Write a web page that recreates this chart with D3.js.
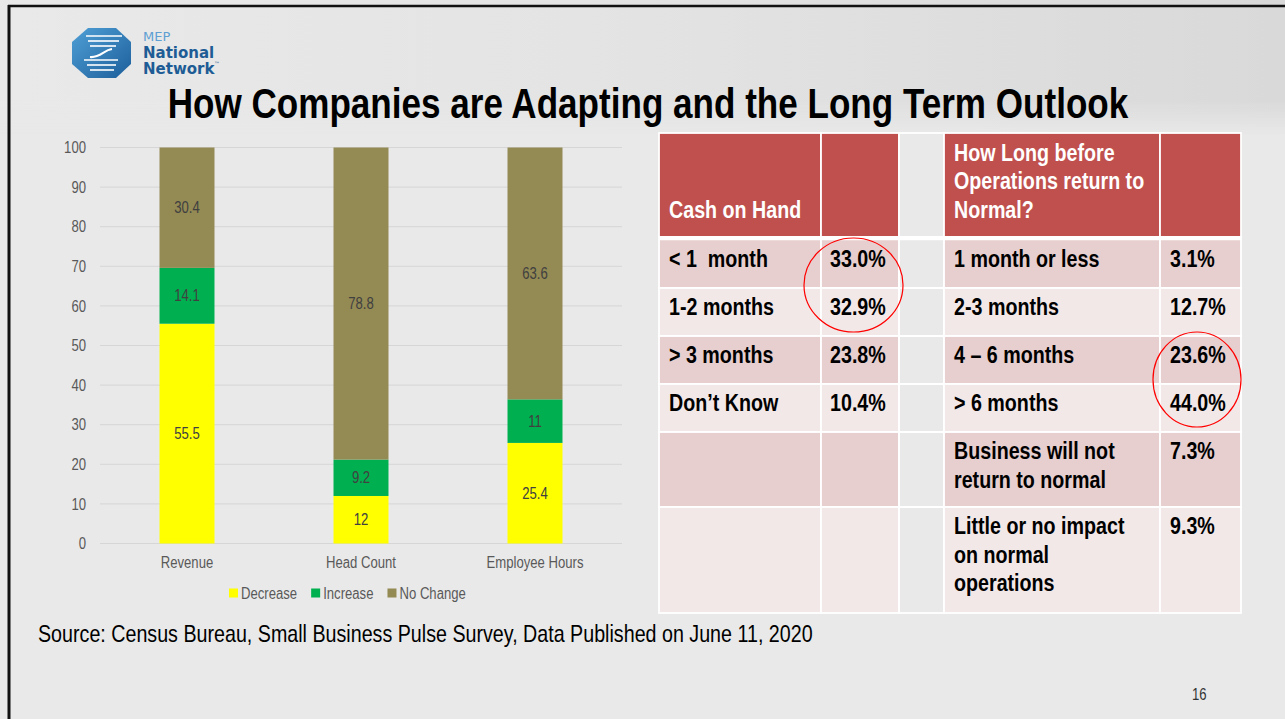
<!DOCTYPE html>
<html>
<head>
<meta charset="utf-8">
<title>How Companies are Adapting and the Long Term Outlook</title>
<script src="https://d3js.org/d3.v7.min.js"></script>
<style>
  body { margin:0; padding:0; background:#e9e9e9; }
  svg text { font-family:"Liberation Sans",Arial,sans-serif; }
</style>
</head>
<body>
<svg id="slide" width="1285" height="719"></svg>
<script>
// ---- chart data ----
const categories = ["Revenue", "Head Count", "Employee Hours"];
const seriesNames = ["Decrease", "Increase", "No Change"];
const decrease = [55.5, 12, 25.4];
const increase = [14.1, 9.2, 11];
const noChange = [30.4, 78.8, 63.6];
const yTicks = [0, 10, 20, 30, 40, 50, 60, 70, 80, 90, 100];
const seriesColors = ["#ffff00", "#00b050", "#948a54"];

// ---- table data ----
const cashHeader = "Cash on Hand";
const cashLabels = ["< 1  month", "1-2 months", "> 3 months", "Don\u2019t Know"];
const cashValues = ["33.0%", "32.9%", "23.8%", "10.4%"];
const normalHeader = ["How Long before", "Operations return to", "Normal?"];
const normalLabels = [["1 month or less"], ["2-3 months"], ["4 \u2013 6 months"], ["> 6 months"],
  ["Business will not", "return to normal"], ["Little or no impact", "on normal", "operations"]];
const normalValues = ["3.1%", "12.7%", "23.6%", "44.0%", "7.3%", "9.3%"];

const svg = d3.select("#slide");
const defs = svg.append("defs");

// no narrow font installed -> squeeze Liberation Sans horizontally (arial narrow look)
function condense(sel, k) {
  k = k || 0.82;
  sel.each(function () {
    let t = d3.select(this);
    let tx = +t.attr("x") || 0, ty = +t.attr("y") || 0;
    t.attr("x", 0).attr("y", 0).attr("transform", `translate(${tx},${ty}) scale(${k},1)`);
  });
  return sel;
}

// background: soft gradient band at the top
let bgGrad = defs.append("linearGradient").attr("id", "bgg").attr("x1", 0).attr("y1", 0).attr("x2", 1).attr("y2", 0);
bgGrad.append("stop").attr("offset", 0).attr("stop-color", "#e9e9e9");
bgGrad.append("stop").attr("offset", 0.45).attr("stop-color", "#e4e4e4");
bgGrad.append("stop").attr("offset", 1).attr("stop-color", "#d9d9d9");
let fade = defs.append("linearGradient").attr("id", "fade").attr("x1", 0).attr("y1", 0).attr("x2", 0).attr("y2", 1);
fade.append("stop").attr("offset", 0.75).attr("stop-color", "#fff").attr("stop-opacity", 1);
fade.append("stop").attr("offset", 1).attr("stop-color", "#fff").attr("stop-opacity", 0);
defs.append("mask").attr("id", "fadeMask").append("rect").attr("width", 1285).attr("height", 135).attr("fill", "url(#fade)");

svg.append("rect").attr("width", 1285).attr("height", 719).attr("fill", "#e9e9e9");
svg.append("rect").attr("width", 1285).attr("height", 135).attr("fill", "url(#bgg)").attr("mask", "url(#fadeMask)");

// slide frame (top + left)
svg.append("line").attr("x1", 8).attr("x2", 1285).attr("y1", 6).attr("y2", 6)
  .attr("stroke", "#111").attr("stroke-width", 2.5);
svg.append("line").attr("x1", 9).attr("x2", 9).attr("y1", 5).attr("y2", 719)
  .attr("stroke", "#111").attr("stroke-width", 3);

// ---- logo ----
let logo = svg.append("g");
let grad = defs.append("linearGradient").attr("id", "lg")
  .attr("x1", 0).attr("y1", 0).attr("x2", 1).attr("y2", 1);
grad.append("stop").attr("offset", 0).attr("stop-color", "#4f9fd6");
grad.append("stop").attr("offset", 1).attr("stop-color", "#1d5f9b");
logo.append("path")
  .attr("d", "M88,28 L116,28 L131,42 L131,64 L116,78 L88,78 L72,64 L72,42 Z")
  .attr("fill", "url(#lg)");
[36, 41, 46].forEach((y, i) => {
  logo.append("line").attr("x1", 86 + i * 2).attr("x2", 122 - i * 3).attr("y1", y).attr("y2", y)
    .attr("stroke", "#fff").attr("stroke-width", 1.6);
});
[60, 65, 70].forEach((y, i) => {
  logo.append("line").attr("x1", 84 + i * 3).attr("x2", 118 - i * 2).attr("y1", y).attr("y2", y)
    .attr("stroke", "#fff").attr("stroke-width", 1.6);
});
logo.append("path").attr("d", "M90,57 C100,58 104,50 112,49")
  .attr("fill", "none").attr("stroke", "#fff").attr("stroke-width", 2.2);
logo.append("text").attr("x", 143).attr("y", 41).text("MEP")
  .style("font-family", "DejaVu Sans").style("font-size", "13px").attr("fill", "#5d9fd3");
logo.append("text").attr("x", 143).attr("y", 58).text("National")
  .style("font-family", "DejaVu Sans").style("font-size", "15px").style("font-weight", "bold").attr("fill", "#1e5c95");
logo.append("text").attr("x", 143).attr("y", 74).text("Network")
  .style("font-family", "DejaVu Sans").style("font-size", "15px").style("font-weight", "bold").attr("fill", "#1e5c95");
logo.append("text").attr("x", 214).attr("y", 66).text("\u2122")
  .style("font-family", "DejaVu Sans").style("font-size", "6px").attr("fill", "#1e5c95");

// ---- title ----
condense(svg.append("text").attr("x", 648).attr("y", 118).attr("text-anchor", "middle")
  .style("font-size", "42px").style("font-weight", "bold").attr("fill", "#000")
  .text("How Companies are Adapting and the Long Term Outlook"), 0.835);

// ---- stacked bar chart ----
let x = d3.scaleBand().domain(categories).range([100, 622]).paddingInner(0.684).paddingOuter(0.342);
let y = d3.scaleLinear().domain([0, 100]).range([543.5, 147.5]);

let rows = categories.map((c, i) => ({ cat: c, "Decrease": decrease[i], "Increase": increase[i], "No Change": noChange[i] }));
let stacked = d3.stack().keys(seriesNames)(rows);

let chart = svg.append("g");
chart.selectAll("line.grid").data(yTicks).enter().append("line")
  .attr("x1", 100).attr("x2", 622)
  .attr("y1", d => y(d)).attr("y2", d => y(d))
  .attr("stroke", "#d6d6d6").attr("stroke-width", 1);

condense(chart.selectAll("text.ytick").data(yTicks).enter().append("text")
  .attr("x", 86).attr("y", d => y(d)).attr("dy", "0.35em").attr("text-anchor", "end")
  .style("font-size", "16px").attr("fill", "#595959").text(d => d));

let layers = chart.selectAll("g.layer").data(stacked).enter().append("g")
  .attr("fill", (d, i) => seriesColors[i]);
layers.selectAll("rect").data(d => d).enter().append("rect")
  .attr("x", d => x(d.data.cat)).attr("width", x.bandwidth())
  .attr("y", d => y(d[1])).attr("height", d => y(d[0]) - y(d[1]));
condense(layers.selectAll("text").data(d => d).enter().append("text")
  .attr("x", d => x(d.data.cat) + x.bandwidth() / 2)
  .attr("y", d => y((d[0] + d[1]) / 2)).attr("dy", "0.35em")
  .attr("text-anchor", "middle").style("font-size", "16px").attr("fill", "#404040")
  .text(d => +(d[1] - d[0]).toFixed(1)));

condense(chart.selectAll("text.cat").data(categories).enter().append("text")
  .attr("x", d => x(d) + x.bandwidth() / 2).attr("y", 568).attr("text-anchor", "middle")
  .style("font-size", "16px").attr("fill", "#595959").text(d => d));

// legend
let lx = 229;
seriesNames.forEach((name, i) => {
  chart.append("rect").attr("x", lx).attr("y", 588.5).attr("width", 9).attr("height", 9).attr("fill", seriesColors[i]);
  let t = chart.append("text").attr("x", lx + 12).attr("y", 598.5)
    .style("font-size", "16px").attr("fill", "#595959").text(name);
  let w = t.node().getComputedTextLength() * 0.82;
  condense(t);
  lx += 12 + w + 14;
});

// ---- table ----
const colX = [659, 821, 899, 944, 1160, 1241];
const rowY = [133, 237, 288, 336, 384, 432, 507, 613];
const headFill = "#c0504d", oddFill = "#e7cfcf", evenFill = "#f3e8e8";
let table = svg.append("g");

for (let r = 0; r < rowY.length - 1; r++) {
  for (let c = 0; c < colX.length - 1; c++) {
    let fill = c === 2 ? "none" : (r === 0 ? headFill : (r % 2 === 1 ? oddFill : evenFill));
    table.append("rect")
      .attr("x", colX[c]).attr("y", rowY[r])
      .attr("width", colX[c + 1] - colX[c]).attr("height", rowY[r + 1] - rowY[r])
      .attr("fill", fill).attr("stroke", "#fff").attr("stroke-width", 1.8);
  }
}
// thicker line under header
table.append("line").attr("x1", colX[0]).attr("x2", colX[5]).attr("y1", 238.5).attr("y2", 238.5)
  .attr("stroke", "#fff").attr("stroke-width", 3.5);

function cellText(xp, yp, txt, color) {
  let t = table.append("text").attr("x", xp).attr("y", yp).attr("fill", color)
    .style("font-size", "24px").style("font-weight", "bold").style("white-space", "pre").text(txt);
  return condense(t);
}
cellText(669, 218, cashHeader, "#fff");
normalHeader.forEach((line, i) => cellText(954, 161 + i * 28.3, line, "#fff"));

cashLabels.forEach((lab, i) => {
  let top = rowY[i + 1] + (i === 0 ? 3 : 0);
  cellText(669, top + 27, lab, "#000");
  cellText(830, top + 27, cashValues[i], "#000");
});
normalLabels.forEach((lines, i) => {
  let top = rowY[i + 1] + (i === 0 ? 3 : 0);
  lines.forEach((line, j) => cellText(954, top + 27 + j * 28.5, line, "#000"));
  cellText(1170, top + 27, normalValues[i], "#000");
});

// red highlight circles
table.append("ellipse").attr("cx", 853.5).attr("cy", 285).attr("rx", 49.5).attr("ry", 47)
  .attr("fill", "none").attr("stroke", "#ff0000").attr("stroke-width", 1.2);
table.append("ellipse").attr("cx", 1197).attr("cy", 379.5).attr("rx", 44).attr("ry", 47.5)
  .attr("fill", "none").attr("stroke", "#ff0000").attr("stroke-width", 1.2);

// ---- footer ----
condense(svg.append("text").attr("x", 38).attr("y", 642).style("font-size", "24px").attr("fill", "#000")
  .text("Source: Census Bureau, Small Business Pulse Survey, Data Published on June 11, 2020"));
condense(svg.append("text").attr("x", 1192).attr("y", 700).style("font-size", "16px").attr("fill", "#333").text("16"));
</script>
</body>
</html>
